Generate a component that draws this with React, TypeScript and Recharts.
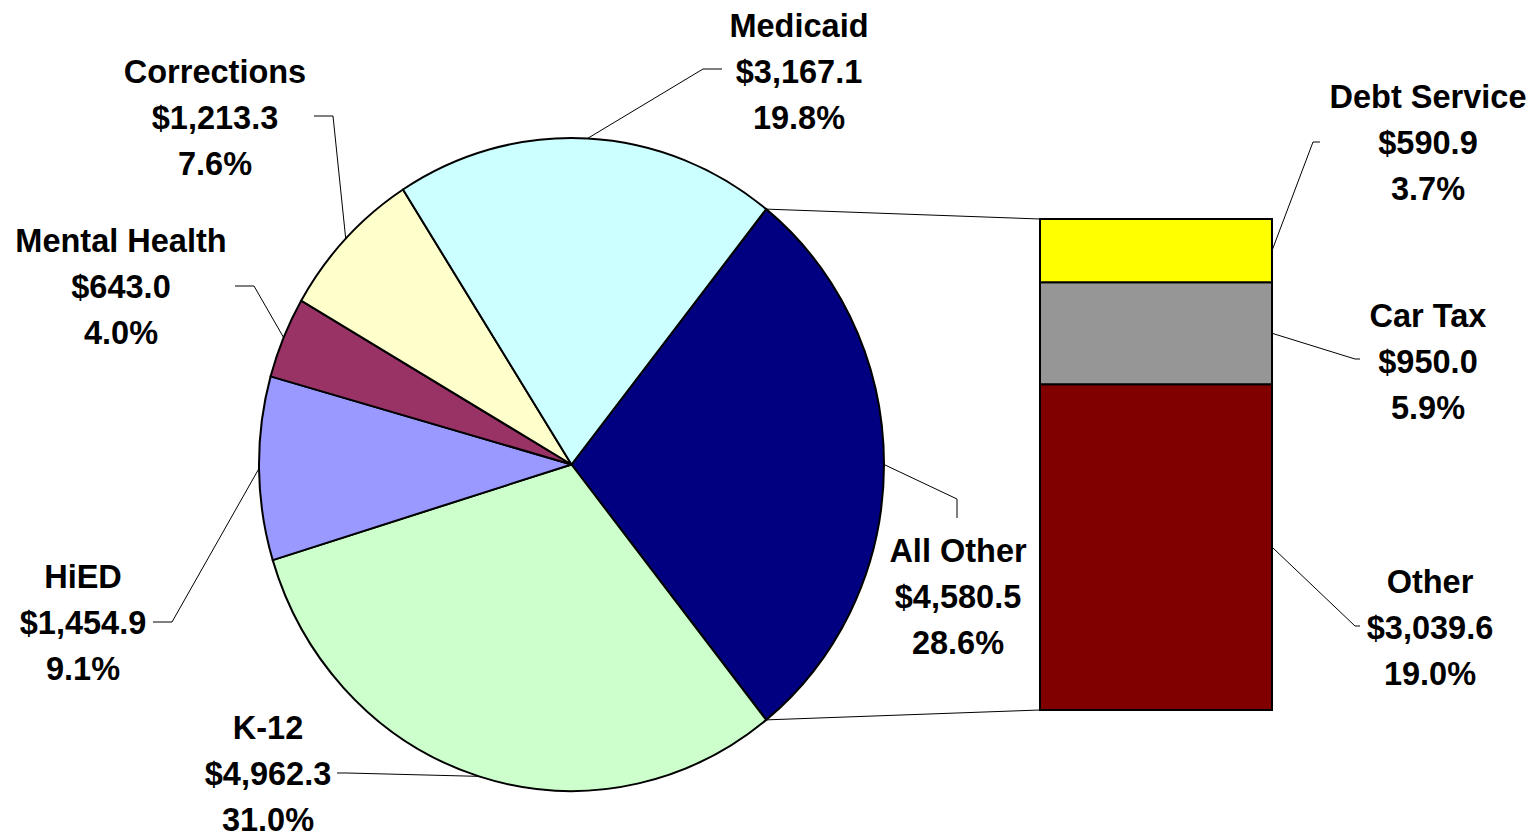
import { PieChart, Pie, Cell, BarChart, Bar, XAxis, YAxis } from "recharts";

// pie slices, clockwise starting with the split-out slice
const pieNames = ["All Other", "K-12", "HiED", "Mental Health", "Corrections", "Medicaid"];
const pieValues = [4580.5, 4962.3, 1454.9, 643.0, 1213.3, 3167.1];
const pieColors = ["#000080", "#CCFFCC", "#9999FF", "#993366", "#FFFFCC", "#CCFFFF"];

// breakdown of "All Other", bottom to top
const barNames = ["Other", "Car Tax", "Debt Service"];
const barValues = [3039.6, 950.0, 590.9];
const barColors = ["#800000", "#969696", "#FFFF00"];

const W = 1537;
const H = 837;
const CX = 571.5;
const CY = 464.5;
const R = 312.5;
const K = 326.5 / 312.5; // pie is drawn slightly taller than wide
const BAR_LEFT = 1040;
const BAR_RIGHT = 1272;
const BAR_TOP = 219;
const BAR_BOTTOM = 710;
const RAD = Math.PI / 180;
const FONT = "'Liberation Sans', Arial, Helvetica, sans-serif";

// label placement: text centre x, first baseline, leader elbow, leader tail
const labelLayout: Record<string, { tx: number; ty: number; elbow: [number, number]; tail: [number, number] }> = {
  Medicaid: { tx: 799, ty: 37, elbow: [703, 69], tail: [722, 69] },
  Corrections: { tx: 215, ty: 83, elbow: [333, 116], tail: [314, 116] },
  "Mental Health": { tx: 121, ty: 252, elbow: [254, 286], tail: [235, 286] },
  HiED: { tx: 83, ty: 588, elbow: [172, 622], tail: [153, 622] },
  "K-12": { tx: 268, ty: 739, elbow: [347, 773], tail: [337, 773] },
  "All Other": { tx: 958, ty: 562, elbow: [957, 499], tail: [957, 518] },
  "Debt Service": { tx: 1428, ty: 108, elbow: [1313, 142], tail: [1320, 142] },
  "Car Tax": { tx: 1428, ty: 327, elbow: [1355, 359], tail: [1360, 359] },
  Other: { tx: 1430, ty: 593, elbow: [1355, 626], tail: [1360, 626] },
};

const grandTotal = pieValues.reduce((a, b) => a + b, 0);
const splitShare = pieValues[0] / grandTotal;
const pieData = pieNames.map((name, i) => ({ name, value: pieValues[i] }));
const barRow: Record<string, number | string> = { name: "All Other" };
barNames.forEach((n, i) => (barRow[n] = barValues[i]));
const barData = [barRow];
const barTotal = barValues.reduce((a, b) => a + b, 0);

const fmtMoney = (v: number) =>
  "$" + v.toLocaleString("en-US", { minimumFractionDigits: 1, maximumFractionDigits: 1 });
const fmtPct = (v: number) => ((v / grandTotal) * 100).toFixed(1) + "%";

const ellipsePoint = (cx: number, cy: number, r: number, angle: number): [number, number] => [
  cx + r * Math.cos(angle * RAD),
  cy - r * K * Math.sin(angle * RAD),
];

const LabelBlock = ({ name, value, start }: { name: string; value: number; start: [number, number] }) => {
  const l = labelLayout[name];
  const lines = [name, fmtMoney(value), fmtPct(value)];
  return (
    <g>
      <polyline
        points={`${start[0]},${start[1]} ${l.elbow[0]},${l.elbow[1]} ${l.tail[0]},${l.tail[1]}`}
        fill="none"
        stroke="#000"
        strokeWidth={1}
      />
      {lines.map((t, i) => (
        <text
          key={i}
          x={l.tx}
          y={l.ty + i * 46}
          textAnchor="middle"
          fontFamily={FONT}
          fontWeight="bold"
          fontSize={32.5}
          fill="#000"
        >
          {t}
        </text>
      ))}
    </g>
  );
};

const EllipseSector = (p: any) => {
  const { cx, cy, outerRadius, startAngle, endAngle, fill } = p;
  const [x1, y1] = ellipsePoint(cx, cy, outerRadius, startAngle);
  const [x2, y2] = ellipsePoint(cx, cy, outerRadius, endAngle);
  const delta = endAngle - startAngle;
  const large = Math.abs(delta) > 180 ? 1 : 0;
  const sweep = delta < 0 ? 1 : 0;
  return (
    <path
      d={`M${cx},${cy} L${x1},${y1} A${outerRadius},${outerRadius * K} 0 ${large} ${sweep} ${x2},${y2} Z`}
      fill={fill}
      stroke="#000"
      strokeWidth={2}
      strokeLinejoin="round"
    />
  );
};

const renderPieLabel = (p: any) => {
  const name = p.payload?.name ?? p.name;
  const value = p.payload?.value ?? p.value;
  const start = ellipsePoint(p.cx, p.cy, p.outerRadius, p.midAngle);
  if (name !== "All Other") return <LabelBlock name={name} value={value} start={start} />;
  const a0 = p.startAngle ?? splitShare * 180;
  const a1 = p.endAngle ?? -splitShare * 180;
  const top = ellipsePoint(p.cx, p.cy, p.outerRadius, a0);
  const bottom = ellipsePoint(p.cx, p.cy, p.outerRadius, a1);
  return (
    <g>
      <line x1={top[0]} y1={top[1]} x2={BAR_LEFT} y2={BAR_TOP} stroke="#000" strokeWidth={1} />
      <line x1={bottom[0]} y1={bottom[1]} x2={BAR_LEFT} y2={BAR_BOTTOM} stroke="#000" strokeWidth={1} />
      <LabelBlock name={name} value={value} start={start} />
    </g>
  );
};

const barLabel = (name: string, value: number) => (p: any) => {
  const x = Number(p.x) + Number(p.width);
  const y = Number(p.y) + Number(p.height) / 2;
  return <LabelBlock name={name} value={value} start={[x, y]} />;
};

export default function App() {
  return (
    <div style={{ position: "fixed", left: 0, top: 0, width: W, height: H, background: "#fff" }}>
      <div style={{ position: "absolute", left: 0, top: 0 }}>
        <PieChart width={W} height={H} margin={{ top: 0, right: 0, bottom: 0, left: 0 }}>
          <Pie
            data={pieData}
            dataKey="value"
            nameKey="name"
            cx={CX}
            cy={CY}
            outerRadius={R}
            startAngle={splitShare * 180}
            endAngle={splitShare * 180 - 360}
            stroke="#000"
            strokeWidth={2}
            shape={EllipseSector}
            label={renderPieLabel}
            labelLine={false}
            isAnimationActive={false}
          >
            {pieData.map((d, i) => (
              <Cell key={d.name} fill={pieColors[i]} />
            ))}
          </Pie>
        </PieChart>
      </div>
      <div style={{ position: "absolute", left: 0, top: 0 }}>
        <BarChart
          width={W}
          height={H}
          data={barData}
          margin={{ top: BAR_TOP, right: W - BAR_RIGHT, bottom: H - BAR_BOTTOM, left: BAR_LEFT }}
          barCategoryGap={0}
        >
          <XAxis dataKey="name" hide />
          <YAxis hide domain={[0, barTotal]} type="number" />
          {barNames.map((n, i) => (
            <Bar
              key={n}
              dataKey={n}
              stackId="a"
              fill={barColors[i]}
              stroke="#000"
              strokeWidth={2}
              label={barLabel(n, barValues[i])}
              isAnimationActive={false}
            />
          ))}
        </BarChart>
      </div>
    </div>
  );
}
